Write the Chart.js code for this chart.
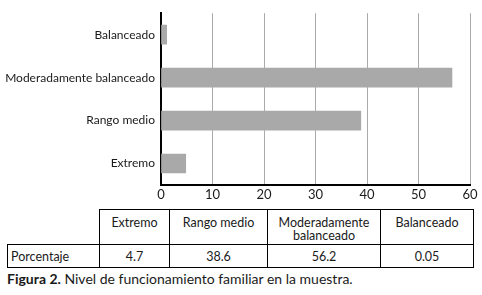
<!DOCTYPE html>
<html>
<head>
<meta charset="utf-8">
<script src="https://cdn.jsdelivr.net/npm/chart.js@4"></script>
<style>
  body { margin: 0; background: #fff; font-family: Lato, sans-serif; color: #1a1a1a; }
  #wrap { position: absolute; left: 0; top: 0; width: 482px; height: 206px; }
  table { position: absolute; left: 7px; top: 209px; border-collapse: collapse; font-size: 12.5px; }
  td { border: 1.5px solid #000; text-align: center; padding: 0; line-height: 13px; }
  tr.head td { height: 35px; vertical-align: top; padding-top: 6px; box-sizing: border-box; }
  tr.vals td { height: 22px; }
  td.blank { border: none; border-bottom: 1.5px solid #000; }
  td.rowlab { text-align: left; padding-left: 3px; }
  #caption { position: absolute; left: 7px; top: 270px; font-size: 14px; }
</style>
</head>
<body>
<div id="wrap"><canvas id="myChart"></canvas></div>
<table id="tbl">
  <tr class="head" id="headRow"><td class="blank" style="width:92px"></td></tr>
  <tr class="vals" id="valRow"><td class="rowlab">Porcentaje</td></tr>
</table>
<div id="caption"><b>Figura 2.</b> Nivel de funcionamiento familiar en la muestra.</div>
<script>
const labels_cat = ["Extremo", "Rango medio", "Moderadamente balanceado", "Balanceado"];
const table_head = ["Extremo", "Rango medio", "Moderadamente<br>balanceado", "Balanceado"];
const table_vals = ["4.7", "38.6", "56.2", "0.05"];
const dataBars = [4.8, 38.8, 56.5, 1.1];
const colWidths = [70, 98, 113, 93];

// table below the chart
for (let i = 0; i < table_head.length; i++) {
  let h = document.createElement("td");
  h.innerHTML = table_head[i];
  h.style.width = colWidths[i] + "px";
  document.getElementById("headRow").appendChild(h);
  let v = document.createElement("td");
  v.innerHTML = table_vals[i];
  document.getElementById("valRow").appendChild(v);
}

const dataNivel = {
  labels: labels_cat,
  datasets: [
    {
      label: 'Porcentaje',
      data: dataBars,
      backgroundColor: '#a9a9a9',
      borderWidth: 0,
      barThickness: 19
    }
  ]
};

const configNivel = {
  type: 'bar',
  data: dataNivel,
  options: {
    indexAxis: 'y',
    responsive: true,
    maintainAspectRatio: false,
    animation: false,
    layout: {
      padding: { left: 0, right: 12, top: 7, bottom: 0 }
    },
    plugins: {
      legend: { display: false },
      tooltip: { enabled: false }
    },
    scales: {
      x: {
        min: 0,
        max: 60,
        ticks: {
          stepSize: 10,
          color: '#1a1a1a',
          padding: 2,
          font: { family: 'Lato', size: 13 }
        },
        grid: {
          color: '#aaaaaa',
          lineWidth: 1,
          drawTicks: false
        },
        border: { color: '#000', width: 2 },
        afterFit: function(scale) { scale.height = 21; }
      },
      y: {
        reverse: true,
        ticks: {
          color: '#1a1a1a',
          padding: 6,
          font: { family: 'Lato', size: 12 }
        },
        grid: { display: false, drawTicks: false },
        border: { color: '#000', width: 2 },
        afterFit: function(scale) { scale.width = 161; }
      }
    }
  }
};

const myChartNivel = new Chart(
  document.getElementById('myChart'),
  configNivel
);
</script>
</body>
</html>
